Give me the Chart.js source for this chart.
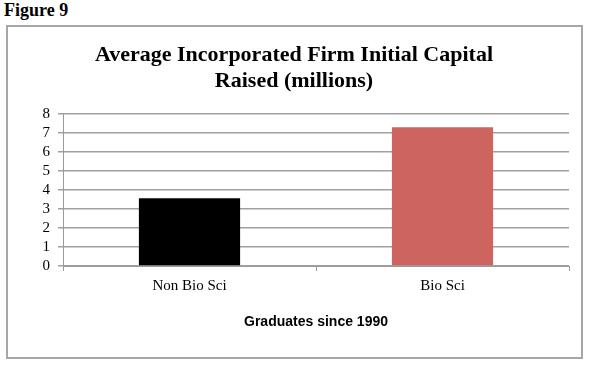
<!DOCTYPE html>
<html>
<head>
<meta charset="utf-8">
<script src="https://cdn.jsdelivr.net/npm/chart.js@4"></script>
<style>
  html, body { margin: 0; padding: 0; background: #fff; }
  body { width: 589px; height: 365px; position: relative; overflow: hidden; }
  #fig { position: absolute; left: 4px; top: 0px; font: bold 18px "Liberation Serif", serif; color: #000; }
  #frame { position: absolute; left: 6px; top: 25px; width: 573px; height: 330px; border: 2px solid #a6a6a6; }
  #wrap { position: absolute; left: 0; top: 0; width: 589px; height: 365px; }
</style>
</head>
<body>
<div id="fig">Figure 9</div>
<div id="frame"></div>
<div id="wrap"><canvas id="myChart"></canvas></div>
<script>
// Données du graphique
const categories = ['Non Bio Sci', 'Bio Sci'];
const capitalValues = [3.55, 7.28];
const barColors = ['#000000', '#cd6460'];
const chartTitle = ['Average Incorporated Firm Initial Capital', 'Raised (millions)'];
const xAxisTitle = 'Graduates since 1990';

const ctx = document.getElementById('myChart').getContext('2d');
new Chart(ctx, {
    type: 'bar',
    data: {
        labels: categories,
        datasets: [{
            data: capitalValues,
            backgroundColor: barColors,
            borderWidth: 0,
            barPercentage: 0.4,
            categoryPercentage: 1.0
        }]
    },
    options: {
        responsive: true,
        maintainAspectRatio: false,
        animation: false,
        layout: { padding: { left: 19, right: 20, top: 29, bottom: 20 } },
        plugins: {
            legend: { display: false },
            tooltip: { enabled: false },
            title: {
                display: true,
                text: chartTitle,
                color: '#000',
                font: { family: 'Liberation Serif', weight: 'bold', size: 22, lineHeight: 1.15 },
                padding: { top: 14, bottom: 20 }
            }
        },
        scales: {
            x: {
                grid: { display: true, drawOnChartArea: false, color: '#9a9a9a', tickLength: 5, offset: true },
                border: { color: '#9a9a9a', width: 1 },
                ticks: { color: '#000', font: { family: 'Liberation Serif', size: 15 }, padding: 6 },
                title: {
                    display: true,
                    text: xAxisTitle,
                    color: '#000',
                    font: { family: 'Liberation Sans', weight: 'bold', size: 14 },
                    padding: { top: 0, bottom: 14 }
                },
                afterFit: function(scale) { scale.height = 79; }
            },
            y: {
                min: 0,
                max: 8,
                grid: { color: '#a0a0a0', lineWidth: 1.5, tickLength: 5 },
                border: { color: '#9a9a9a', width: 1 },
                ticks: { stepSize: 1, autoSkip: false, color: '#000', font: { family: 'Liberation Serif', size: 15, lineHeight: 1 }, padding: 8 },
                afterFit: function(scale) { scale.width = 44; }
            }
        }
    }
});
</script>
</body>
</html>
